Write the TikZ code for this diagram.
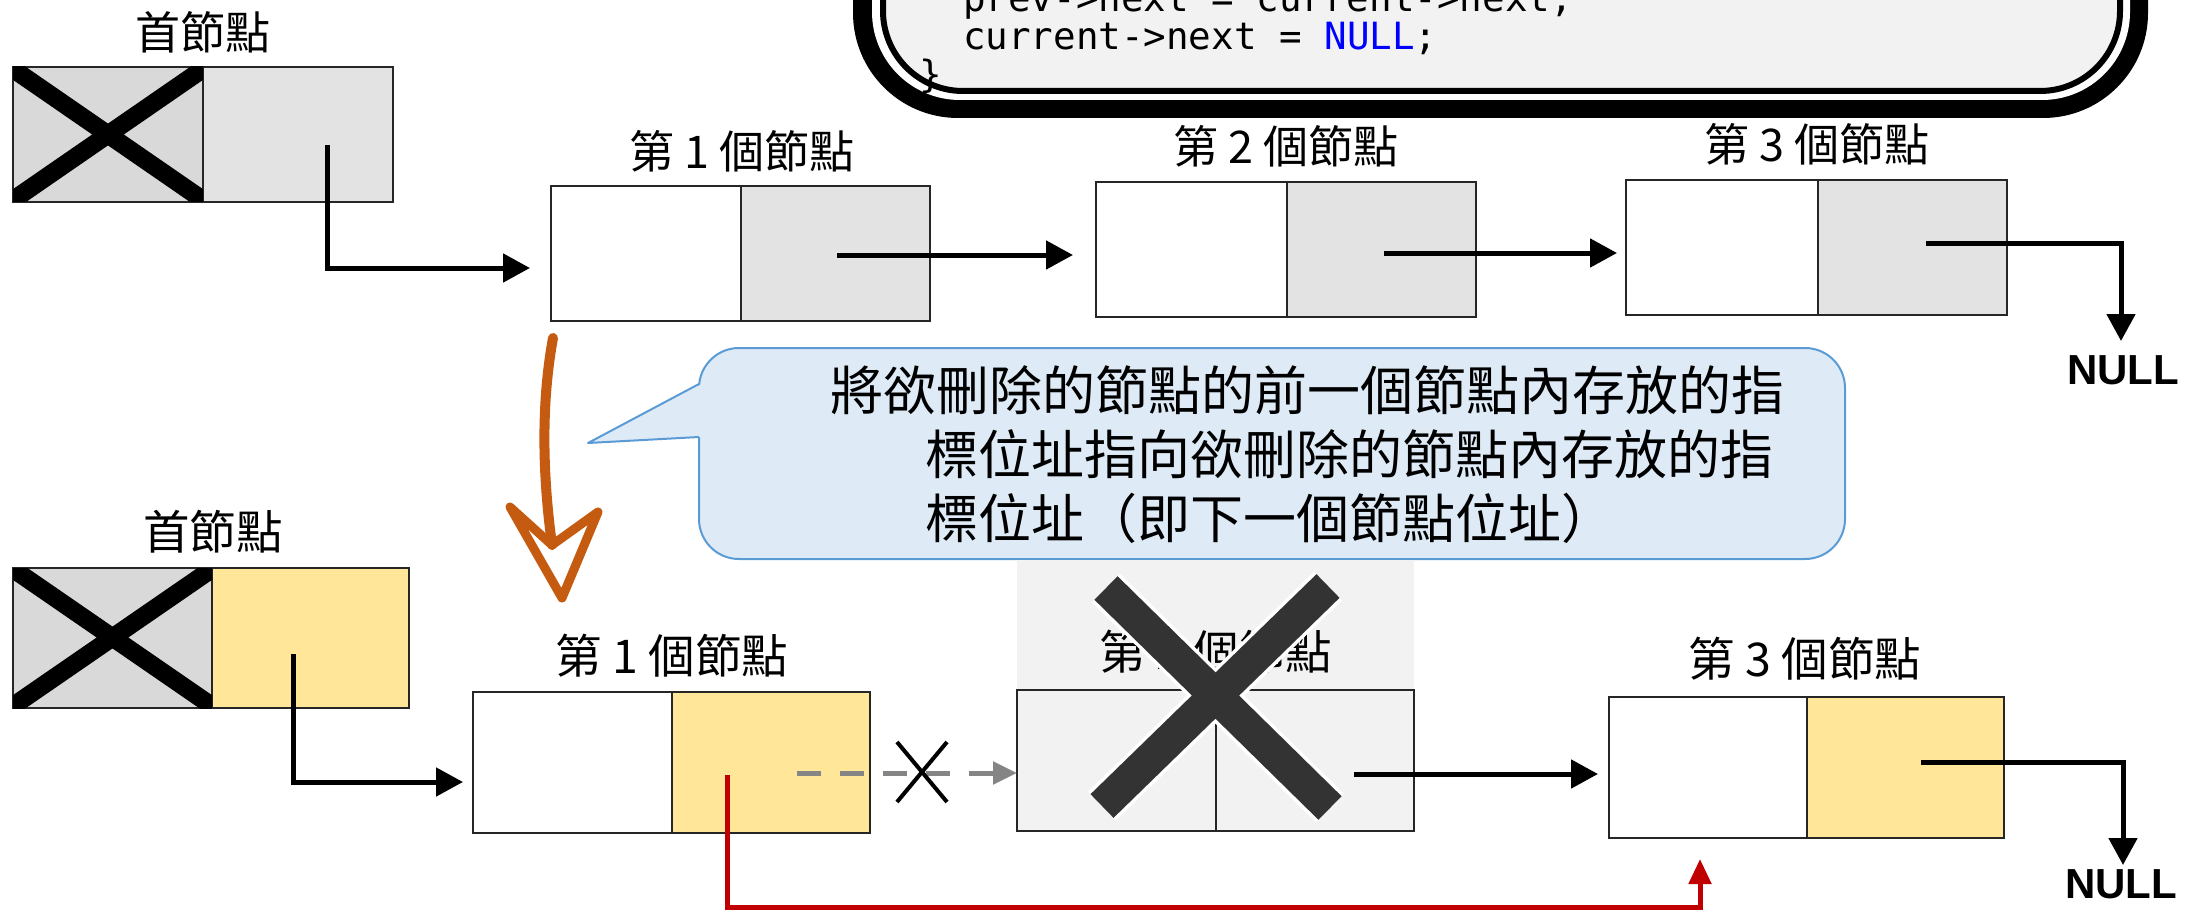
\documentclass[tikz,border=0pt]{standalone}
\usepackage{fontspec}
\newfontfamily\cjk{Noto Sans CJK TC}
\newfontfamily\codefnt{DejaVu Sans Mono}
\newfontfamily\nulltxt{Liberation Sans}
\usetikzlibrary{arrows.meta}
\definecolor{cellgray}{HTML}{E3E3E3}
\definecolor{headgray}{HTML}{D9D9D9}
\definecolor{ptryellow}{HTML}{FFE699}
\definecolor{delgray}{HTML}{F2F2F2}
\definecolor{codebg}{HTML}{F2F2F2}
\definecolor{calloutfill}{HTML}{DEEBF7}
\definecolor{calloutline}{HTML}{5B9BD5}
\definecolor{redline}{HTML}{C00000}
\definecolor{orangearrow}{HTML}{C55A11}
\definecolor{xdark}{HTML}{333333}
\definecolor{codeblue}{HTML}{0000FF}
\definecolor{dashgray}{HTML}{858585}
\begin{document}
\begin{tikzpicture}[x=1pt,y=-1pt,
  cell/.style={draw=black!85, line width=2.5pt, inner sep=0pt},
  lbl/.style={font=\cjk\fontsize{45}{52}\selectfont, inner sep=0pt},
  lblb/.style={font=\cjk\fontsize{46.5}{54}\selectfont, inner sep=0pt},
  ptr/.style={line width=5pt, -{Triangle[length=27pt,width=28pt]}},
  nulls/.style={font=\nulltxt\bfseries\fontsize{42}{50}\selectfont, inner sep=0pt},
  code/.style={font=\codefnt\fontsize{37.5}{38}\selectfont, inner sep=0pt, anchor=base west},
  ctext/.style={font=\cjk\fontsize{53}{63}\selectfont, inner sep=0pt, anchor=west},
  bigx/.style={line width=18pt, black},
]
\useasboundingbox (0,0) rectangle (2208,912);
\clip (0,0) rectangle (2208,912);

% ---------- code box ----------
\fill[black, rounded corners=105pt] (853,-300) rectangle (2148,118);
\fill[white, rounded corners=88pt] (872,-300) rectangle (2130,100);
\filldraw[fill=codebg, draw=black, line width=6pt, rounded corners=80pt] (883,-300) rectangle (2120,91);
\node[code] (c1) at (963,12) {prev->next = current->next;};
\node[code] (c2) at (963,50) {current->next = \textcolor{codeblue}{NULL};};
\node[code] (c3) at (919,88) {\}};

% ---------- top row ----------
\node[lbl] (lh1) at (203,32) {首節點};
\node[cell, fill=headgray, minimum width=190pt, minimum height=135pt] (h1L) at (108,134.5) {};
\node[cell, fill=cellgray, minimum width=190pt, minimum height=135pt] (h1R) at (298,134.5) {};
\begin{scope}
  \clip (13,67) rectangle (203,202);
  \draw[bigx] (0,60) -- (216,209) (216,60) -- (0,209);
\end{scope}

\node[lbl] (l11) at (742,151) {第 1 個節點};
\node[cell, fill=white, minimum width=190pt, minimum height=135pt] (b1L) at (646,253.5) {};
\node[cell, fill=cellgray, minimum width=189pt, minimum height=135pt] (b1R) at (835.5,253.5) {};

\node[lbl] (l12) at (1286,146) {第 2 個節點};
\node[cell, fill=white, minimum width=191pt, minimum height=135pt] (b2L) at (1191.5,249.5) {};
\node[cell, fill=cellgray, minimum width=189pt, minimum height=135pt] (b2R) at (1381.5,249.5) {};

\node[lbl] (l13) at (1817,144) {第 3 個節點};
\node[cell, fill=white, minimum width=192pt, minimum height=135pt] (b3L) at (1722,247.5) {};
\node[cell, fill=cellgray, minimum width=189pt, minimum height=135pt] (b3R) at (1912.5,247.5) {};

\node[nulls] (null1) at (2123,370) {NULL};

\coordinate (p0s) at (327,145);
\coordinate (p0c) at (327,268);
\coordinate (p0t) at (530,268);
\draw[ptr] (p0s) -- (p0c) -- (p0t);
\coordinate (p1s) at (837,255);
\coordinate (p1t) at (1073,255);
\draw[ptr] (p1s) -- (p1t);
\coordinate (p2s) at (1384,253);
\coordinate (p2t) at (1617,253);
\draw[ptr] (p2s) -- (p2t);
\coordinate (p3s) at (1926,243);
\coordinate (p3c) at (2121,243);
\coordinate (p3t) at (2121,341);
\draw[ptr] (p3s) -- (p3c) -- (p3t);

% ---------- orange arrow ----------
\coordinate (oa1) at (553,338);
\coordinate (oa2) at (552,545);
\coordinate (oaL) at (510,507);
\coordinate (oaR) at (598,512);
\coordinate (oaT) at (562,598);
\draw[orangearrow, line width=10pt, line cap=round] (oa1) .. controls (538,420) and (546,500) .. (oa2);
\draw[orangearrow, line width=9pt, line cap=round, line join=round] (oaL) -- (oa2) -- (oaR) -- (oaT) -- cycle;

% ---------- callout ----------
\filldraw[fill=calloutfill, draw=calloutline, line width=2pt, rounded corners=40pt] (699,348) rectangle (1845,559);
\fill[calloutfill] (588,443) -- (701.5,384) -- (701.5,437) -- cycle;
\draw[calloutline, line width=2pt, line join=round] (699,384) -- (588,443) -- (699,437);
\node[ctext] (t1) at (830,390) {將欲刪除的節點的前一個節點內存放的指};
\node[ctext] (t2) at (925,454) {標位址指向欲刪除的節點內存放的指};
\node[ctext] (t3) at (925,518) {標位址（即下一個節點位址）};

% ---------- bottom row ----------
\node[lblb] (lh2) at (213,532) {首節點};
\node[cell, fill=headgray, minimum width=199pt, minimum height=140pt] (h2L) at (112.5,638) {};
\node[cell, fill=ptryellow, minimum width=197pt, minimum height=140pt] (h2R) at (310.5,638) {};
\begin{scope}
  \clip (13,568) rectangle (212,708);
  \draw[bigx] (0,560) -- (225,715) (225,560) -- (0,715);
\end{scope}

\node[lblb] (l21) at (672,656) {第 1 個節點};
\node[cell, fill=white, minimum width=199pt, minimum height=141pt] (d1L) at (572.5,762.5) {};
\node[cell, fill=ptryellow, minimum width=198pt, minimum height=141pt] (d1R) at (771,762.5) {};

\fill[delgray] (1017,560) rectangle (1414,690);
\node[lblb] (l22) at (1216,652) {第 2 個節點};
\node[cell, fill=delgray, minimum width=199pt, minimum height=141pt] (d2L) at (1116.5,760.5) {};
\node[cell, fill=delgray, minimum width=198pt, minimum height=141pt] (d2R) at (1315,760.5) {};

\node[lblb] (l23) at (1805,659) {第 3 個節點};
\node[cell, fill=white, minimum width=198pt, minimum height=141pt] (d3L) at (1708,767.5) {};
\node[cell, fill=ptryellow, minimum width=197pt, minimum height=141pt] (d3R) at (1905.5,767.5) {};

\node[nulls] (null2) at (2121,884) {NULL};

% deleted X
\draw[white, line width=40pt] (1106,588) -- (1330,808) (1328,586) -- (1102,806);
\draw[xdark, line width=33pt] (1106,588) -- (1330,808) (1328,586) -- (1102,806);

\coordinate (q0s) at (293,654);
\coordinate (q0c) at (293,782);
\coordinate (q0t) at (463,782);
\draw[ptr] (q0s) -- (q0c) -- (q0t);

\coordinate (gs) at (797,773);
\coordinate (gt) at (1017,773);
\draw[dashgray, line width=5pt, dash pattern=on 24pt off 19pt, -{Triangle[length=24pt,width=22pt]}] (gs) -- (gt);
\draw[black, line width=4pt] (897,742) -- (947,802) (947,742) -- (897,802);

\coordinate (q2s) at (1354,774);
\coordinate (q2t) at (1598,774);
\draw[ptr] (q2s) -- (q2t);
\coordinate (q3s) at (1921,762);
\coordinate (q3c) at (2123,762);
\coordinate (q3t) at (2123,865);
\draw[ptr] (q3s) -- (q3c) -- (q3t);

\coordinate (rs) at (727,775);
\coordinate (rc) at (727,907);
\coordinate (rd) at (1700,907);
\coordinate (rt) at (1700,859);
\draw[redline, line width=5pt, -{Triangle[length=25pt,width=22pt]}] (rs) -- (rc) -- (rd) -- (rt);
\end{tikzpicture}
\end{document}
